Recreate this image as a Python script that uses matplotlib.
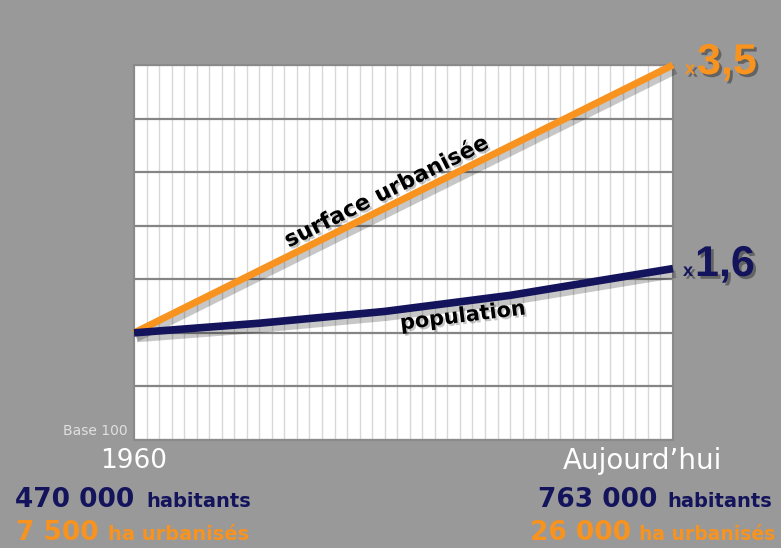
import matplotlib
matplotlib.use("Agg")
import matplotlib.pyplot as plt
import matplotlib.patheffects as pe

# ---- data ----
surf_years = [1960, 2003]
surface = [100, 350]          # base 100 -> x3,5
pop_years = [1960, 1970, 1980, 1990, 2003]
population = [100, 109, 120, 135, 160]   # base 100 -> x1,6
y_grid = [0, 50, 100, 150, 200, 250, 300, 350]
x_grid = list(range(1960, 2004))

ORANGE = "#f7931e"
NAVY = "#14145c"
BG = "#999999"

W, H = 781, 548
fig = plt.figure(figsize=(W / 100, H / 100), dpi=100)
fig.patch.set_facecolor(BG)

def fx(px):
    return px / W

def fy(py):
    return 1 - py / H

ax = fig.add_axes([fx(134), fy(440), 539 / W, 375 / H])
ax.set_facecolor("white")
ax.set_xlim(1960, 2003)
ax.set_ylim(0, 350)

for x in x_grid:
    ax.axvline(x, color="#d8d8d8", lw=1.0, zorder=1)
for y in y_grid:
    ax.axhline(y, color="#858585", lw=1.6, zorder=2)

ax.set_xticks([])
ax.set_yticks([])
for s in ax.spines.values():
    s.set_color("#8a8a8a")
    s.set_linewidth(1.5)

shadow_line = [pe.SimpleLineShadow(offset=(2, -4), shadow_color="black", alpha=0.22),
               pe.Normal()]
ax.plot(surf_years, surface, color=ORANGE, lw=5, solid_capstyle="butt",
        zorder=5, clip_on=False, path_effects=shadow_line)
ax.plot(pop_years, population, color=NAVY, lw=5.5, solid_capstyle="butt",
        zorder=6, clip_on=False, path_effects=shadow_line)

txt_shadow = [pe.SimplePatchShadow(offset=(1.5, -1.5), shadow_rgbFace="black", alpha=0.22),
              pe.Normal()]
num_shadow = [pe.SimplePatchShadow(offset=(2, -2), shadow_rgbFace="black", alpha=0.35),
              pe.Normal()]

fig.text(fx(387), fy(192), "surface urbanisée", rotation=26.5, ha="center",
         va="center", fontsize=16, fontweight="bold", color="black",
         path_effects=txt_shadow, zorder=10)
fig.text(fx(463), fy(316), "population", rotation=7, ha="center",
         va="center", fontsize=15, fontweight="bold", color="black",
         path_effects=txt_shadow, zorder=10)

narrow = ["Liberation Sans", "DejaVu Sans"]
# end labels
fig.text(fx(685), fy(74), "x", fontsize=13, fontweight="bold", color=ORANGE,
         family=narrow, va="baseline", ha="left", path_effects=num_shadow)
fig.text(fx(697), fy(74), "3,5", fontsize=31, fontweight="bold", color=ORANGE,
         family=narrow, va="baseline", ha="left", path_effects=num_shadow)
fig.text(fx(683), fy(276), "x", fontsize=13, fontweight="bold", color=NAVY,
         family=narrow, va="baseline", ha="left", path_effects=num_shadow)
fig.text(fx(695), fy(276), "1,6", fontsize=31, fontweight="bold", color=NAVY,
         family=narrow, va="baseline", ha="left", path_effects=num_shadow)

# base label
fig.text(fx(128), fy(431), "Base 100", fontsize=10, color="#e0e0e0",
         ha="right", va="center")

# bottom-left annotations
fig.text(fx(100), fy(461), "1960", fontsize=19, color="white", ha="left", va="center")
fig.text(fx(15), fy(507), "470 000", fontsize=19, fontweight="bold", color=NAVY,
         ha="left", va="baseline")
fig.text(fx(146), fy(507), "habitants", fontsize=14, fontweight="bold", color=NAVY,
         ha="left", va="baseline")
fig.text(fx(16), fy(540), "7 500", fontsize=19, fontweight="bold", color=ORANGE,
         ha="left", va="baseline")
fig.text(fx(108), fy(540), "ha urbanisés", fontsize=14, fontweight="bold",
         color=ORANGE, ha="left", va="baseline")

# bottom-right annotations
fig.text(fx(563), fy(461), "Aujourd’hui", fontsize=20, color="white", ha="left",
         va="center")
fig.text(fx(538), fy(507), "763 000", fontsize=19, fontweight="bold", color=NAVY,
         ha="left", va="baseline")
fig.text(fx(667), fy(507), "habitants", fontsize=14, fontweight="bold", color=NAVY,
         ha="left", va="baseline")
fig.text(fx(530), fy(540), "26 000", fontsize=19, fontweight="bold", color=ORANGE,
         ha="left", va="baseline")
fig.text(fx(639), fy(540), "ha urbanisés", fontsize=13.5, fontweight="bold",
         color=ORANGE, ha="left", va="baseline")

fig.savefig("out.png", dpi=100, facecolor=BG)
